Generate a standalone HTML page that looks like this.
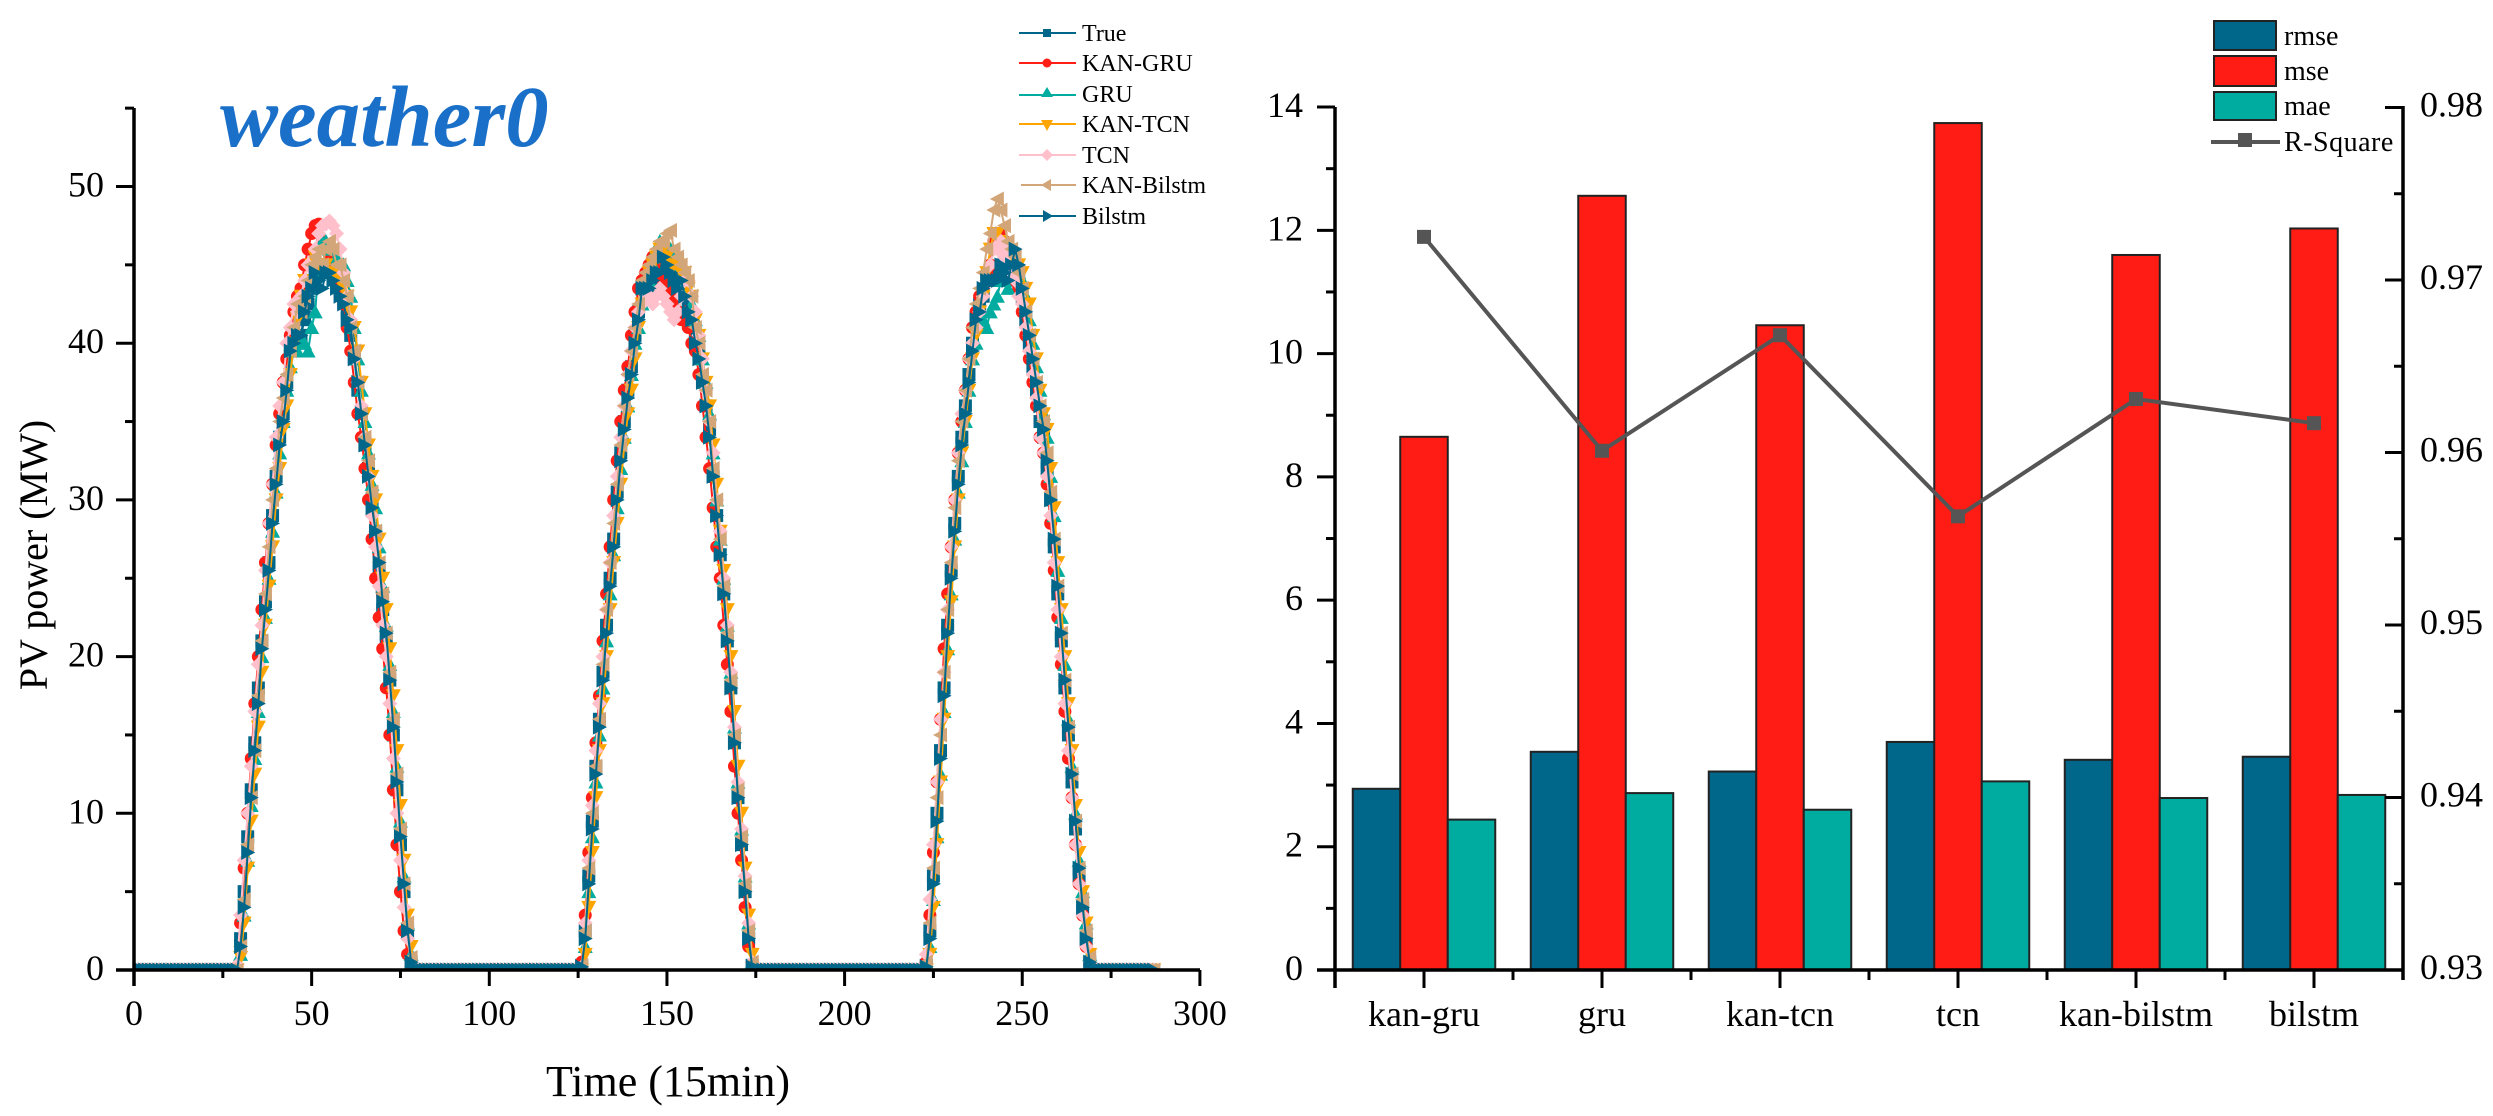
<!DOCTYPE html>
<html lang="en">
<head>
<meta charset="utf-8">
<title>weather0 PV power forecast and error metrics</title>
<style>
html,body{margin:0;padding:0;background:#fff;width:2493px;height:1116px;overflow:hidden}
svg{display:block;font-family:"Liberation Serif",serif;fill:#000}
</style>
</head>
<body>
<svg id="figure" xmlns="http://www.w3.org/2000/svg" width="2493" height="1116" viewBox="0 0 2493 1116">
  <defs><clipPath id="plot-clip"><rect x="134" y="0" width="1070" height="970"/></clipPath></defs>
  <rect x="0" y="0" width="2493" height="1116" fill="#fff"/>
  <g id="left-chart"></g>
  <g id="right-chart"></g>

  <text x="220" y="146" font-size="87" font-weight="bold" font-style="italic" fill="#1a70c8">weather0</text>
  <text x="668" y="1096" font-size="44" text-anchor="middle">Time (15min)</text>
  <text transform="translate(47,555) rotate(-90)" font-size="40" text-anchor="middle">PV power (MW)</text>

  <g font-size="24">
    <g><line x1="1019" x2="1076" y1="33" y2="33" stroke="#00678a" stroke-width="2"/><rect x="1043" y="29" width="8" height="8" fill="#00678a"/><text x="1082" y="41">True</text></g>
    <g><line x1="1019" x2="1076" y1="63" y2="63" stroke="#ff1f16" stroke-width="2"/><circle cx="1047" cy="63" r="4.5" fill="#ff1f16"/><text x="1082" y="71">KAN-GRU</text></g>
    <g><line x1="1019" x2="1076" y1="95" y2="95" stroke="#00ab9f" stroke-width="2"/><path d="M1047 87l6 10h-12z" fill="#00ab9f"/><text x="1082" y="102">GRU</text></g>
    <g><line x1="1019" x2="1076" y1="124" y2="124" stroke="#ffa500" stroke-width="2"/><path d="M1041 120h12l-6 11z" fill="#ffa500"/><text x="1082" y="132">KAN-TCN</text></g>
    <g><line x1="1019" x2="1076" y1="155" y2="155" stroke="#ffc0cb" stroke-width="2"/><path d="M1047 149l6 6-6 6-6-6z" fill="#ffc0cb"/><text x="1082" y="163">TCN</text></g>
    <g><line x1="1021" x2="1076" y1="185" y2="185" stroke="#d2a679" stroke-width="2"/><path d="M1041 185l10-6v12z" fill="#d2a679"/><text x="1082" y="193">KAN-Bilstm</text></g>
    <g><line x1="1019" x2="1076" y1="216" y2="216" stroke="#00678a" stroke-width="2"/><path d="M1053 216l-10-6v12z" fill="#00678a"/><text x="1082" y="224">Bilstm</text></g>
  </g>

  <g font-size="28">
    <g><rect x="2214" y="21" width="62" height="29" fill="#00678a" stroke="#222" stroke-width="2"/><text x="2284" y="45">rmse</text></g>
    <g><rect x="2214" y="56" width="62" height="30" fill="#ff1c14" stroke="#222" stroke-width="2"/><text x="2284" y="80">mse</text></g>
    <g><rect x="2214" y="92" width="62" height="28" fill="#00ab9f" stroke="#222" stroke-width="2"/><text x="2284" y="115">mae</text></g>
    <g><line x1="2211" x2="2280" y1="142" y2="142" stroke="#555" stroke-width="4"/><rect x="2238" y="133" width="14" height="14" fill="#555"/><text x="2284" y="151" letter-spacing="0.5">R-Square</text></g>
  </g>
</svg>

<script>
// ---------- Line chart data (time index = array position, value in MW) ----------
const seriesNames = ["True", "KAN-GRU", "GRU", "KAN-TCN", "TCN", "KAN-Bilstm", "Bilstm"];
const xTickValues = [0, 50, 100, 150, 200, 250, 300];
const yTickValues = [0, 10, 20, 30, 40, 50];

const trueValues = [
0,0,0,0,0,0,0,0,0,0,0,0,0,0,0,0,0,0,0,0,0,0,0,0,0,0,0,0,0,
0,2,5,8.5,11.5,14.5,18,21,23.5,26,29,31.5,34,35.5,37.5,39.5,40.3,40.2,40.5,41.5,42.5,43.5,44,45,44.5,45,44.5,45,44,43.5,43,42,40.5,39,37,35.5,33.5,32,30,28,25.5,23,21,18.5,15,11.5,8,5,2.5,0.5,
0,0,0,0,0,0,0,0,0,0,0,0,0,0,0,0,0,0,0,0,0,0,0,0,0,0,0,0,0,0,0,0,0,0,0,0,0,0,0,0,0,0,0,0,0,0,0,
0.3,2.5,6,9.5,13,16,19,22,25,27.5,30.5,33,35,37,38.5,40.5,42,43.5,43.8,43.5,44,45,45.5,46,45.5,45,44.5,44,44,43.5,42.5,41.5,40.5,39.5,37.5,36,34.5,31.5,29,26.5,24,21,18,14.5,11,8,5,2,0.3,
0,0,0,0,0,0,0,0,0,0,0,0,0,0,0,0,0,0,0,0,0,0,0,0,0,0,0,0,0,0,0,0,0,0,0,0,0,0,0,0,0,0,0,0,0,0,0,0,
0.3,2.5,6,10,14,18,22,25.5,28.5,31.5,34,36,38,40,41.5,42.5,43,44,44.5,44,44.5,45,44,44.5,45,44.5,44,43,41.5,40,38.5,37,35,34,32,30,27,24,21,18,15,12,9,6,4,2,0.5,0,
0,0,0,0,0,0,0,0,0,0,0,0,0,0,0,0,0];

const kanGruValues = [
0,0,0,0,0,0,0,0,0,0,0,0,0,0,0,0,0,0,0,0,0,0,0,0,0,0,0,0,0,
0.2,3,6.5,10,13.5,17,20,23,26,28.5,31,33.5,35.5,37.5,39,40.5,42,43,43.5,45,46,47,47.5,47.6,46.5,46,45.5,45,44,43,42.5,41,39.5,37.5,35.5,34,32,30,27.5,25,22.5,20.5,18,15,11.5,8,5,2.5,1,0.2,
0,0,0,0,0,0,0,0,0,0,0,0,0,0,0,0,0,0,0,0,0,0,0,0,0,0,0,0,0,0,0,0,0,0,0,0,0,0,0,0,0,0,0,0,0,0,0,
0.5,3.5,7.5,11,14.5,17.5,21,24,27,30,32.5,35,37,38.5,40.5,42,43.5,44,44.5,45,45.5,45,44.5,44,43.5,43,42.5,42,41.5,42,41,40,39.5,38,36,34,32,29.5,27,25,22,19.5,16.5,13,10,7,4,1.5,0.2,
0,0,0,0,0,0,0,0,0,0,0,0,0,0,0,0,0,0,0,0,0,0,0,0,0,0,0,0,0,0,0,0,0,0,0,0,0,0,0,0,0,0,0,0,0,0,0,0,
0.5,3.5,7.5,12,16,20.5,24,27,30,33,35,37,39,41,42,43,43.5,44.5,45,46.5,46.8,47,46.5,45.5,45,44,43.5,42,40.5,39,37.5,36,34,33,31,28.5,25.5,22.5,19.5,16.5,13.5,11,8,5.5,3.5,1.5,0.3,0,
0,0,0,0,0,0,0,0,0,0,0,0,0,0,0,0,0];

const gruValues = [
0,0,0,0,0,0,0,0,0,0,0,0,0,0,0,0,0,0,0,0,0,0,0,0,0,0,0,0,0,
0,1,3.5,7,10.5,13.5,16.5,20,22.5,25,28,30.5,33,35,37,38.5,39.5,39.5,40,40,39.5,41,42,45,46.5,46.5,46,46,45.5,45,45,44,43,41,39,37,35,33,31,29.5,27,24.5,22,19.5,16.5,13,9.5,6,3,1,
0,0,0,0,0,0,0,0,0,0,0,0,0,0,0,0,0,0,0,0,0,0,0,0,0,0,0,0,0,0,0,0,0,0,0,0,0,0,0,0,0,0,0,0,0,0,0,
0,1.5,5,8.5,12,15,18,21,24,26.5,29.5,32,34,36,38,40,41,42.5,43.5,44,45,46,46.5,46,46,46,45.5,45.5,45,44,43.5,42.5,41.5,40.5,39,37.5,35.5,33,30,27.5,25,22,19,15.5,12,9,6,3,0.5,
0,0,0,0,0,0,0,0,0,0,0,0,0,0,0,0,0,0,0,0,0,0,0,0,0,0,0,0,0,0,0,0,0,0,0,0,0,0,0,0,0,0,0,0,0,0,0,0,
0,1.5,4.5,8.5,12.5,16.5,20.5,24,27.5,30.5,32.5,35,37,39,40,41,41.5,41,42,42.5,43,44,44,43.5,44.5,45,44.5,44,43,41.5,40,38.5,37,35.5,34,31.5,29,25.5,22.5,19.5,16,13,10,7,5,3,1,0,
0,0,0,0,0,0,0,0,0,0,0,0,0,0,0,0,0];

const kanTcnValues = [
0,0,0,0,0,0,0,0,0,0,0,0,0,0,0,0,0,0,0,0,0,0,0,0,0,0,0,0,0,
0,0.8,3,6.5,9.5,12.5,15.5,19,22,24.5,27,30,32,34.5,36,38,40,41.5,43,44,44,45,45.5,45,45,45,44.5,44.5,44.5,44,43.5,43,42,41,39.5,37.5,35.5,33.5,31.5,30,27.5,25,23,20.5,17.5,14,10.5,7,3.5,1.5,
0,0,0,0,0,0,0,0,0,0,0,0,0,0,0,0,0,0,0,0,0,0,0,0,0,0,0,0,0,0,0,0,0,0,0,0,0,0,0,0,0,0,0,0,0,0,0,
0,1,4,7.5,11,14,17,20,23,26,28.5,31,33.5,35.5,37,39,41,42.5,43.5,44.5,45,45.5,46,46,45.5,45,45,45,44.5,44.5,43.5,43,41.5,40.5,39,37.5,36,33.5,31,28,25.5,23,20,16.5,13,10,6.5,3.5,1,
0,0,0,0,0,0,0,0,0,0,0,0,0,0,0,0,0,0,0,0,0,0,0,0,0,0,0,0,0,0,0,0,0,0,0,0,0,0,0,0,0,0,0,0,0,0,0,0,
0,1,4,8,12,16,20,23.5,27,30,33,35,37,39,40.5,42,43,44.5,46,47,47,46.5,46,45.5,45,45,45,44.5,43.5,42.5,40.5,39,37,35.5,34.5,32,29.5,26,23,20,17,14,10.5,7.5,5,3,1,0,
0,0,0,0,0,0,0,0,0,0,0,0,0,0,0,0,0];

const tcnValues = [
0,0,0,0,0,0,0,0,0,0,0,0,0,0,0,0,0,0,0,0,0,0,0,0,0,0,0,0,0,
0.3,3.5,7,10,13,16.5,19.5,22,25.5,28.5,31,34,36,37.5,40,41,42.5,42,43,44,45,44,46,47,47.5,47.6,47.8,47.5,47,46,44.5,43,41.5,39,37.5,36,34,31.5,29,27,24.5,22,20,17,13.5,10,7,4,2,0.5,
0,0,0,0,0,0,0,0,0,0,0,0,0,0,0,0,0,0,0,0,0,0,0,0,0,0,0,0,0,0,0,0,0,0,0,0,0,0,0,0,0,0,0,0,0,0,0,
0.2,3,7,10.5,14,17,20,23,26,29,31.5,34,36,38,39.5,41,42,42.5,43,43,42.5,43,43.5,43,42.5,42,41.5,42,43,44,44,43,42,40.5,39,37,35,33,30,28,25,22,19,15.5,12,9,6,3,0.5,
0,0,0,0,0,0,0,0,0,0,0,0,0,0,0,0,0,0,0,0,0,0,0,0,0,0,0,0,0,0,0,0,0,0,0,0,0,0,0,0,0,0,0,0,0,0,0,0,
1,4.5,8,12,16,19,23,27,30,33,35.5,37,39,40,41,42,43,44,45,46,46,46.5,45.5,46,44.5,44,43,42.5,41,39.5,38,36.5,34,33,31.5,29,26,23,20,17,14,11,8,5.5,3.5,1.5,0.5,0,
0,0,0,0,0,0,0,0,0,0,0,0,0,0,0,0,0];

const kanBilstmValues = [
0,0,0,0,0,0,0,0,0,0,0,0,0,0,0,0,0,0,0,0,0,0,0,0,0,0,0,0,0,
0,1.5,4.5,8,11,14,17.5,21,24,27,30,32,35,36.5,38,39.5,41,42.5,42,43,44,45,45.5,46,45,46,46.5,46,45,45,44,43,41,39.5,37.5,35.5,34,32.5,30.5,28,26,24,21.5,19,16,12.5,9,5.5,3,0.8,
0,0,0,0,0,0,0,0,0,0,0,0,0,0,0,0,0,0,0,0,0,0,0,0,0,0,0,0,0,0,0,0,0,0,0,0,0,0,0,0,0,0,0,0,0,0,0,
0.3,2.5,6.5,10,13,16,19.5,23,26,28.5,31,33.5,36,38,39.5,41,42.5,44,44.5,45,45.5,46,46.5,46.5,47,47.2,46,45.5,45,44.5,44,43,41,40,38,37,35,32,30,27.5,24.5,21.5,18.5,15,11.5,8.5,5.5,2.5,0.5,
0,0,0,0,0,0,0,0,0,0,0,0,0,0,0,0,0,0,0,0,0,0,0,0,0,0,0,0,0,0,0,0,0,0,0,0,0,0,0,0,0,0,0,0,0,0,0,0,
0.5,3,6.5,11,15,19,23,26,29.5,32.5,35,37,39,41,42.5,43.5,44.5,46,47,48.5,49.2,48.5,47.5,46.5,46,45.5,44.5,43.5,42,40.5,39,37.5,36,35,33,30.5,27.5,24.5,21.5,18.5,15.5,12.5,9.5,6.5,4.5,2.5,0.8,0,
0,0,0,0,0,0,0,0,0,0,0,0,0,0,0,0,0];

const bilstmValues = [
0,0,0,0,0,0,0,0,0,0,0,0,0,0,0,0,0,0,0,0,0,0,0,0,0,0,0,0,0,
0,1.5,4,7.5,11,14,17,20.5,23,25.5,28.5,31,33.5,35,37,39.5,40,40.5,40.5,42,43,43.5,44.5,44,43.5,44.5,44.5,44,43.5,43,42.5,41.5,41,39,37.5,35.5,33.5,31.5,29.5,28,26,23.5,21.5,18.5,15.5,12,8.5,5.5,2.5,0.5,
0,0,0,0,0,0,0,0,0,0,0,0,0,0,0,0,0,0,0,0,0,0,0,0,0,0,0,0,0,0,0,0,0,0,0,0,0,0,0,0,0,0,0,0,0,0,0,
0.2,2,5.5,9,12.5,15.5,18.5,21.5,24.5,27,30,32.5,34.5,36.5,38,40,41.5,43.5,43.5,43.5,44,44.5,44.5,45.5,45,44.5,44,43.5,44,43,42,41.5,40,39,37.5,36,34,31.5,29,26.5,24,21,18,14.5,11,8,5,2,0.2,
0,0,0,0,0,0,0,0,0,0,0,0,0,0,0,0,0,0,0,0,0,0,0,0,0,0,0,0,0,0,0,0,0,0,0,0,0,0,0,0,0,0,0,0,0,0,0,0,
0.2,2,5.5,9.5,13.5,17.5,21.5,25,28,31,33.5,35.5,37.5,39.5,41.5,42,43.5,44,44,44,44,45,44.5,44,45,46,45,43.5,42,40.5,39,37.5,36,34.5,32.5,30,27.5,24.5,21.5,18.5,15.5,12.5,9.5,6.5,4,2,0.5,0,
0,0,0,0,0,0,0,0,0,0,0,0,0,0,0,0,0];

// ---------- Bar chart data ----------
const modelCategories = ["kan-gru", "gru", "kan-tcn", "tcn", "kan-bilstm", "bilstm"];
const rmseValues = [2.94, 3.54, 3.22, 3.70, 3.41, 3.46];
const mseValues = [8.65, 12.56, 10.46, 13.74, 11.60, 12.03];
const maeValues = [2.44, 2.87, 2.60, 3.06, 2.79, 2.84];
const rSquareValues = [0.9725, 0.9601, 0.9668, 0.9563, 0.9631, 0.9617];
const leftTickValues = [0, 2, 4, 6, 8, 10, 12, 14];
const rightTickValues = [0.93, 0.94, 0.95, 0.96, 0.97, 0.98];

// ---------- Axis functions ----------
const SVG_NS = "http://www.w3.org/2000/svg";
const lineX = function (v) { return 134 + v * 3.553; };
const lineY = function (v) { return 970 - v * 15.67; };
const barBand = function (i) { return 1335 + 178 * i; };
const barY = function (v) { return 970 - v * 61.64; };
const r2Y = function (v) { return 970 - (v - 0.93) * 17250; };

function make(parent, tag, attrs, text) {
  const el = document.createElementNS(SVG_NS, tag);
  for (const k in attrs) { el.setAttribute(k, attrs[k]); }
  if (text !== undefined) { el.textContent = text; }
  parent.appendChild(el);
  return el;
}

function markerPath(kind, x, y) {
  const s = 6.5;
  if (kind === "square") { return "M" + (x - s) + " " + (y - s) + "h" + (2 * s) + "v" + (2 * s) + "h" + (-2 * s) + "z"; }
  if (kind === "circle") { return "M" + (x - s) + " " + y + "a" + s + " " + s + " 0 1 0 " + (2 * s) + " 0a" + s + " " + s + " 0 1 0 " + (-2 * s) + " 0z"; }
  if (kind === "up") { return "M" + x + " " + (y - s - 1) + "L" + (x + s + 1) + " " + (y + s) + "H" + (x - s - 1) + "z"; }
  if (kind === "down") { return "M" + x + " " + (y + s + 1) + "L" + (x + s + 1) + " " + (y - s) + "H" + (x - s - 1) + "z"; }
  if (kind === "diamond") { return "M" + x + " " + (y - s - 1) + "L" + (x + s + 1) + " " + y + "L" + x + " " + (y + s + 1) + "L" + (x - s - 1) + " " + y + "z"; }
  if (kind === "left") { return "M" + (x - s - 1) + " " + y + "L" + (x + s) + " " + (y - s - 1) + "V" + (y + s + 1) + "z"; }
  return "M" + (x + s + 1) + " " + y + "L" + (x - s) + " " + (y - s - 1) + "V" + (y + s + 1) + "z";
}

// ---------- Line chart ----------
const leftChart = document.getElementById("left-chart");
const seriesValues = [trueValues, kanGruValues, gruValues, kanTcnValues, tcnValues, kanBilstmValues, bilstmValues];
const seriesColors = ["#00678a", "#ff1f16", "#00ab9f", "#ffa500", "#ffc0cb", "#d2a679", "#00678a"];
const seriesMarkers = ["square", "circle", "up", "down", "diamond", "left", "right"];
const plotArea = make(leftChart, "g", { "clip-path": "url(#plot-clip)" });



seriesValues.forEach(function (values, s) {
  const group = make(plotArea, "g", { fill: seriesColors[s] });
  
  
  const pts = values.map(function (v, i) { return lineX(i).toFixed(2) + "," + lineY(v).toFixed(2); }).join(" ");
  const line = make(group, "polyline", { points: pts, fill: "none", stroke: seriesColors[s], "stroke-width": 2 });
  
  
  values.forEach(function (v, i) {
    const mark = make(group, "path", { d: markerPath(seriesMarkers[s], lineX(i), lineY(v)) });
    
    
  });
});

function axisLine(parent, x1, y1, x2, y2, name) {
  const el = make(parent, "line", { x1: x1, y1: y1, x2: x2, y2: y2, stroke: "#000", "stroke-width": 3.5 });
  
  
  return el;
}
function tickLine(parent, x1, y1, x2, y2, name) {
  const el = make(parent, "line", { x1: x1, y1: y1, x2: x2, y2: y2, stroke: "#000", "stroke-width": 3 });
  
  
  return el;
}
function tickText(parent, x, y, anchor, text, name) {
  const el = make(parent, "text", { x: x, y: y, "text-anchor": anchor, "font-size": 36 }, text);
  
  
  return el;
}

axisLine(leftChart, 134, 108, 134, 986, "y-axis-line");
axisLine(leftChart, 116, 970, 1200, 970, "x-axis-line");
xTickValues.forEach(function (v, i) {
  tickLine(leftChart, lineX(v), 970, lineX(v), 986, "x-tick");
  tickText(leftChart, lineX(v), 1025, "middle", String(v), "x-tick-label");
  if (i < xTickValues.length - 1) {
    const mid = (v + xTickValues[i + 1]) / 2;
    tickLine(leftChart, lineX(mid), 970, lineX(mid), 978, "x-minor-tick");
  }
});
yTickValues.forEach(function (v) {
  tickLine(leftChart, 116, lineY(v), 134, lineY(v), "y-tick");
  tickText(leftChart, 104, lineY(v) + 10, "end", String(v), "y-tick-label");
  tickLine(leftChart, 125, lineY(v + 5), 134, lineY(v + 5), "y-minor-tick");
});

// ---------- Bar chart ----------
const rightChart = document.getElementById("right-chart");
const barSeries = [rmseValues, mseValues, maeValues];
const barSeriesNames = ["rmse", "mse", "mae"];
const barColors = ["#00678a", "#ff1c14", "#00ab9f"];
const barWidth = 47.5;

modelCategories.forEach(function (cat, c) {
  const center = barBand(c) + 89;
  barSeries.forEach(function (values, s) {
    const left = center - 1.5 * barWidth + s * barWidth;
    const bar = make(rightChart, "rect", {
      x: left, y: barY(values[c]), width: barWidth, height: barY(0) - barY(values[c]),
      fill: barColors[s], stroke: "#222", "stroke-width": 2
    });
    
    
  });
});

axisLine(rightChart, 1335, 107, 1335, 988, "left-axis-line");
axisLine(rightChart, 1317, 970, 2403, 970, "bar-x-axis-line");
axisLine(rightChart, 2403, 106, 2403, 980, "right-axis-line");

modelCategories.forEach(function (cat, c) {
  const center = barBand(c) + 89;
  tickLine(rightChart, center, 970, center, 988, "category-tick");
  tickText(rightChart, center, 1026, "middle", cat, "category-label");
  tickLine(rightChart, barBand(c), 970, barBand(c), 980, "category-minor-tick");
});
tickLine(rightChart, barBand(6), 970, barBand(6), 980, "category-minor-tick");

leftTickValues.forEach(function (v, i) {
  tickLine(rightChart, 1317, barY(v), 1335, barY(v), "left-tick");
  tickText(rightChart, 1303, barY(v) + 10, "end", String(v), "left-tick-label");
  if (i < leftTickValues.length - 1) {
    tickLine(rightChart, 1326, barY(v + 1), 1335, barY(v + 1), "left-minor-tick");
  }
});
rightTickValues.forEach(function (v, i) {
  tickLine(rightChart, 2385, r2Y(v), 2403, r2Y(v), "right-tick");
  tickText(rightChart, 2420, r2Y(v) + 9, "start", v.toFixed(2), "right-tick-label");
  if (i < rightTickValues.length - 1) {
    tickLine(rightChart, 2394, r2Y(v + 0.005), 2403, r2Y(v + 0.005), "right-minor-tick");
  }
});

const r2Points = rSquareValues.map(function (v, c) { return (barBand(c) + 89) + "," + r2Y(v); }).join(" ");
const r2Line = make(rightChart, "polyline", { points: r2Points, fill: "none", stroke: "#555", "stroke-width": 4 });


rSquareValues.forEach(function (v, c) {
  const mark = make(rightChart, "rect", { x: barBand(c) + 89 - 7, y: r2Y(v) - 7, width: 14, height: 14, fill: "#555" });
  
  
});
</script>
</body>
</html>
